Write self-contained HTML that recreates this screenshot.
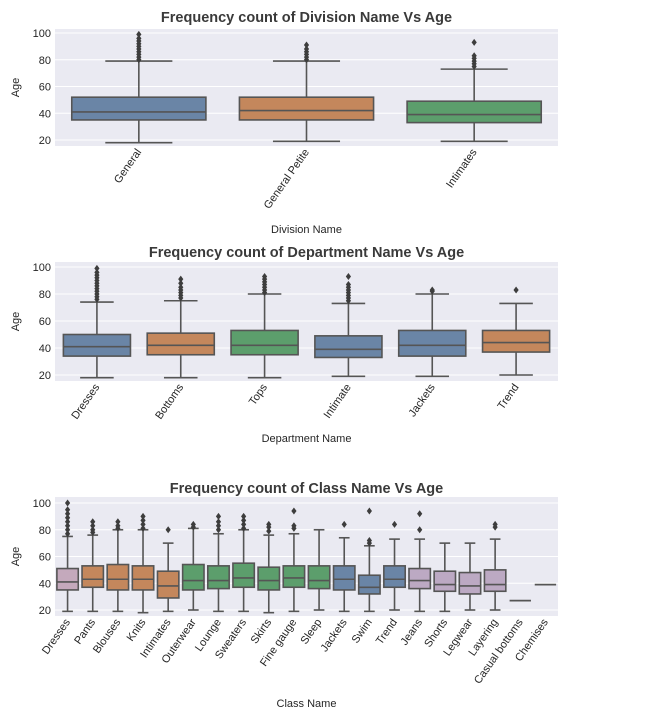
<!DOCTYPE html>
<html><head><meta charset="utf-8">
<style>
body{margin:0;background:#fff;width:658px;height:720px;overflow:hidden}
svg{display:block;font-family:"Liberation Sans",Arial,sans-serif}
</style></head>
<body>
<svg id="chart" width="658" height="720" xmlns="http://www.w3.org/2000/svg"></svg>
<script>
// Division plot data
const divCats = ["General","General Petite","Intimates"];
const divLow = [18,19,19], divQ1=[35,35,33], divMed=[41,42,39], divQ3=[52,52,49], divHigh=[79,79,73];
const divOut = [[80,82,84,86,88,90,92,94,96,99],[80,82,84,86,88,91],[75,77,79,81,83,93]];
const divColors = ["#6a85a6","#c4875c","#5c9e6c"];
// Department plot data
const depCats = ["Dresses","Bottoms","Tops","Intimate","Jackets","Trend"];
const depLow=[18,18,18,19,19,20], depQ1=[34,35,35,33,34,37], depMed=[41,42,42,39,42,44], depQ3=[50,51,53,49,53,53], depHigh=[74,75,80,73,80,73];
const depOut=[[76,78,80,82,84,86,88,90,92,94,96,99],[77,79,81,83,85,88,91],[81,83,85,87,89,91,93],[75,77,79,81,83,85,87,93],[82,83],[83]];
const depColors=["#6a85a6","#c4875c","#5c9e6c","#6a85a6","#6a85a6","#c4875c"];
// Class plot data
const clsCats=["Dresses","Pants","Blouses","Knits","Intimates","Outerwear","Lounge","Sweaters","Skirts","Fine gauge","Sleep","Jackets","Swim","Trend","Jeans","Shorts","Legwear","Layering","Casual bottoms","Chemises"];
const clsLow=[19,19,19,18,19,20,19,19,18,19,20,19,19,20,19,19,20,20,27,39];
const clsQ1=[35,37,35,35,29,35,36,37,35,37,36,35,32,37,36,34,32,34,27,39];
const clsMed=[41,43,43,43,38,42,42,44,42,44,42,43,37,43,42,39,38,39,27,39];
const clsQ3=[51,53,54,53,49,54,53,55,52,53,53,53,46,53,51,49,48,50,27,39];
const clsHigh=[75,76,80,80,70,81,77,80,76,77,80,74,68,73,73,70,70,73,27,39];
const clsOut=[[77,80,83,86,89,92,95,100],[78,80,83,86],[81,83,86],[81,84,87,90],[80],[82,84],[80,83,86,90],[81,84,87,90],[79,82,84],[81,83,94],[],[84],[70,72,94],[84],[80,92],[],[],[82,84],[],[]];
const clsColors=["#c4a9bc","#c4875c","#c4875c","#c4875c","#c4875c","#5c9e6c","#5c9e6c","#5c9e6c","#5c9e6c","#5c9e6c","#5c9e6c","#6a85a6","#6a85a6","#6a85a6","#bca9c3","#bca9c3","#bca9c3","#bca9c3","#bca9c3","#bca9c3"];
const yTicks=[20,40,60,80,100];

const NS="http://www.w3.org/2000/svg";
const svg=document.getElementById('chart');
function mk(tag,attrs,parent){const e=document.createElementNS(NS,tag);for(const k in attrs)e.setAttribute(k,attrs[k]);(parent||svg).appendChild(e);return e;}

function plot(cfg){
  const g=mk('g',{});
  
  
  const L=55,R=558,T=cfg.top,B=cfg.bottom;
  const y=v=>cfg.y100+(100-v)*(cfg.y20-cfg.y100)/80;
  const n=cfg.cats.length, bw=(R-L)/n;
  const x=i=>L+bw*(i+0.5);
  const bg=mk('rect',{x:L,y:T,width:R-L,height:B-T,fill:"#eaeaf2"},g);
  
  
  yTicks.forEach(t=>{
    mk('line',{x1:L,x2:R,y1:y(t),y2:y(t),stroke:"#fff","stroke-width":1},g);
    const tx=mk('text',{x:L-4,y:y(t)+4,"text-anchor":"end","font-size":11,fill:"#262626"},g);
    tx.textContent=t;
    
    
  });
  const yl=mk('text',{x:19,y:(T+B)/2,"text-anchor":"middle","font-size":11,fill:"#262626",transform:`rotate(-90 19 ${(T+B)/2})`},g);
  yl.textContent="Age";
  
  
  const tt=mk('text',{x:(L+R)/2,y:cfg.titleY,"text-anchor":"middle","font-size":14.5,"font-weight":"bold",fill:"#3a3a3a"},g);
  tt.textContent=cfg.title;
  
  
  const xl=mk('text',{x:(L+R)/2,y:cfg.xlabelY,"text-anchor":"middle","font-size":11,fill:"#262626"},g);
  xl.textContent=cfg.xlabel;
  
  
  const w=bw*cfg.frac;
  cfg.cats.forEach((c,i)=>{
    const cx=x(i);
    const bx=mk('g',{},g);
    
    
    const col="#555";
    if(cfg.high[i]!==cfg.low[i]){
      mk('line',{x1:cx,x2:cx,y1:y(cfg.high[i]),y2:y(cfg.q3[i]),stroke:col,"stroke-width":1.6},bx);
      mk('line',{x1:cx,x2:cx,y1:y(cfg.q1[i]),y2:y(cfg.low[i]),stroke:col,"stroke-width":1.6},bx);
      mk('line',{x1:cx-w/4,x2:cx+w/4,y1:y(cfg.high[i]),y2:y(cfg.high[i]),stroke:col,"stroke-width":1.6},bx);
      mk('line',{x1:cx-w/4,x2:cx+w/4,y1:y(cfg.low[i]),y2:y(cfg.low[i]),stroke:col,"stroke-width":1.6},bx);
      mk('rect',{x:cx-w/2,y:y(cfg.q3[i]),width:w,height:y(cfg.q1[i])-y(cfg.q3[i]),fill:cfg.colors[i],stroke:col,"stroke-width":1.6},bx);
      mk('line',{x1:cx-w/2,x2:cx+w/2,y1:y(cfg.med[i]),y2:y(cfg.med[i]),stroke:col,"stroke-width":1.6},bx);
    } else {
      mk('line',{x1:cx-w/2,x2:cx+w/2,y1:y(cfg.med[i]),y2:y(cfg.med[i]),stroke:col,"stroke-width":1.8},bx);
    }
    cfg.out[i].forEach(v=>{
      const yy=y(v);
      mk('polygon',{points:`${cx},${yy-3.5} ${cx+2.6},${yy} ${cx},${yy+3.5} ${cx-2.6},${yy}`,fill:"#3d3d3d"},bx);
    });
    const lx=cx+3, ly=B+6;
    const tl=mk('text',{x:lx,y:ly,"text-anchor":"end","font-size":11,fill:"#262626",transform:`rotate(-55 ${lx} ${ly})`},g);
    tl.textContent=c;
    
    
  });
}
plot({name:"division-plot",top:29,bottom:146,y100:33,y20:140,titleY:22,xlabelY:233,title:"Frequency count of Division Name Vs Age",xlabel:"Division Name",cats:divCats,low:divLow,q1:divQ1,med:divMed,q3:divQ3,high:divHigh,out:divOut,colors:divColors,frac:0.8});
plot({name:"department-plot",top:262,bottom:381,y100:267,y20:375,titleY:257,xlabelY:442,title:"Frequency count of Department Name Vs Age",xlabel:"Department Name",cats:depCats,low:depLow,q1:depQ1,med:depMed,q3:depQ3,high:depHigh,out:depOut,colors:depColors,frac:0.8});
plot({name:"class-plot",top:497,bottom:616,y100:503,y20:610,titleY:493,xlabelY:707,title:"Frequency count of Class Name Vs Age",xlabel:"Class Name",cats:clsCats,low:clsLow,q1:clsQ1,med:clsMed,q3:clsQ3,high:clsHigh,out:clsOut,colors:clsColors,frac:0.85});
</script>
</body></html>
